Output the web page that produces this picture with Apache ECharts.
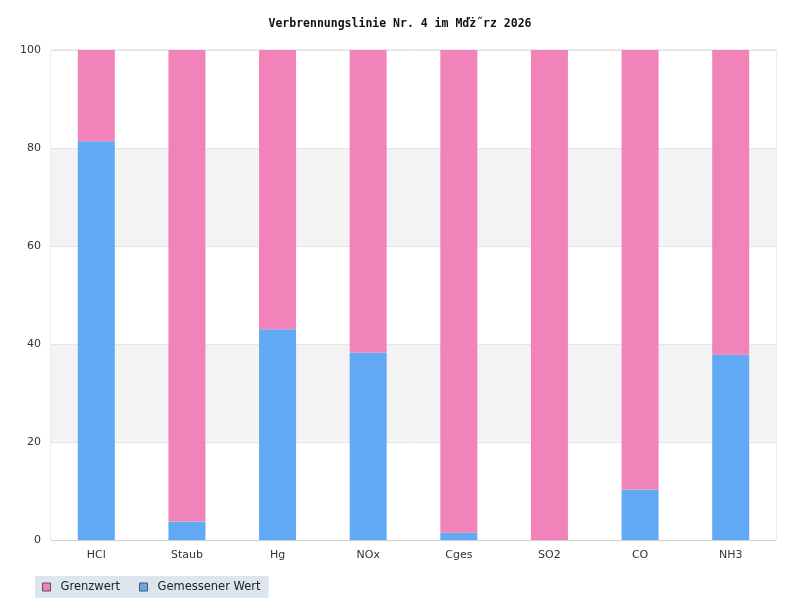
<!DOCTYPE html>
<html>
<head>
<meta charset="utf-8">
<script src="https://cdn.jsdelivr.net/npm/echarts@6/dist/echarts.min.js"></script>
<style>html,body{margin:0;padding:0;background:#fff}#c{width:800px;height:615px}</style>
</head>
<body>
<div id="c"></div>
<script>
const categories = ['HCl', 'Staub', 'Hg', 'NOx', 'Cges', 'SO2', 'CO', 'NH3'];
const gemessenerWert = [81.4, 3.8, 43.0, 38.2, 1.5, 0, 10.3, 37.8];
const grenzwert = [18.6, 96.2, 57.0, 61.8, 98.5, 100, 89.7, 62.2];
const yTicks = [0, 20, 40, 60, 80, 100];
const titleText = 'Verbrennungslinie Nr. 4 im Mďż˝rz 2026';

const chart = echarts.init(document.getElementById('c'), null, {renderer: 'canvas'});
chart.setOption({
  animation: false,
  backgroundColor: '#ffffff',
  title: {
    text: titleText,
    left: 'center',
    top: 13,
    textStyle: {fontFamily: 'DejaVu Sans Mono', fontWeight: 'bold', fontSize: 11.5, color: '#111'}
  },
  legend: {
    data: ['Grenzwert', 'Gemessener Wert'],
    left: 35,
    top: 576,
    padding: [5, 8, 5, 7],
    backgroundColor: '#dde6ef',
    itemWidth: 8,
    itemHeight: 8,
    itemGap: 19,
    icon: 'rect',
    itemStyle: {borderColor: '#555', borderWidth: 1},
    textStyle: {fontFamily: 'DejaVu Sans', fontSize: 11.5, color: '#222', padding: [0, 0, 0, 5]}
  },
  grid: {
    left: 51, right: 24, top: 50, bottom: 75,
    show: true, borderColor: '#d9d9d9', borderWidth: 1, backgroundColor: 'transparent'
  },
  xAxis: {
    type: 'category',
    data: categories,
    axisLine: {lineStyle: {color: '#d0d0d0'}},
    axisTick: {show: false},
    axisLabel: {fontFamily: 'DejaVu Sans', fontSize: 11, color: '#333', margin: 10}
  },
  yAxis: {
    type: 'value',
    min: yTicks[0],
    max: yTicks[yTicks.length - 1],
    interval: 20,
    axisLine: {show: false},
    axisTick: {show: false},
    axisLabel: {fontFamily: 'DejaVu Sans', fontSize: 11, color: '#333', margin: 10},
    splitLine: {lineStyle: {color: '#e4e4e4'}},
    splitArea: {show: true, areaStyle: {color: ['#ffffff', '#f3f3f3']}}
  },
  series: [
    {
      name: 'Gemessener Wert',
      type: 'bar',
      stack: 'total',
      barWidth: 37,
      data: gemessenerWert,
      itemStyle: {color: '#61a9f5'}
    },
    {
      name: 'Grenzwert',
      type: 'bar',
      stack: 'total',
      barWidth: 37,
      data: grenzwert,
      itemStyle: {color: '#f283ba'}
    }
  ]
});
</script>
</body>
</html>
